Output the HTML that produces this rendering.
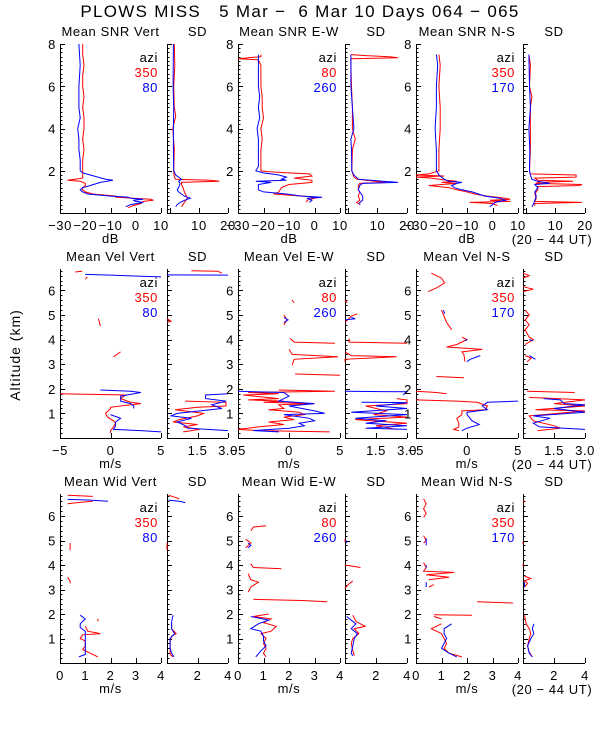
<!DOCTYPE html>
<html><head><meta charset="utf-8"><style>
body{margin:0;background:#fff}
svg{display:block}
text{font-family:"Liberation Sans",sans-serif;font-size:13px;fill:#000;letter-spacing:0.6px}
</style></head><body>
<svg id="chart" width="600" height="750" viewBox="0 0 600 750" xmlns="http://www.w3.org/2000/svg">
<text x="300" y="17" text-anchor="middle" style="font-size:17px;letter-spacing:1.3px" xml:space="preserve">PLOWS MISS   5 Mar −  6 Mar 10 Days 064 − 065</text>
<text transform="translate(20,355) rotate(-90)" text-anchor="middle" style="font-size:14px;letter-spacing:1px">Altitude (km)</text>
<g id="plots"></g>
</svg>
<script>
// ---------- data: [altitude km, value], null = gap ----------
const snrVertRed=[[8,-21],[7.5,-21],[7,-20.5],[6.5,-21],[6,-21],[5.5,-20.5],[5,-21],[4.5,-20.5],[4,-20.5],[3.5,-21],[3,-20.5],[2.5,-21],[2,-21],[1.8,-21],[1.65,-21],[1.6,-24],[1.55,-27],[1.5,-22],[1.4,-20],[1.3,-20],[1.2,-21],[1.1,-21],[1,-20],[0.9,-17],[0.8,-8],[0.75,-8],[0.7,-1],[0.65,6],[0.6,7],[0.55,3],[0.45,2],[0.35,-1],[0.25,-3]];
const snrVertBlue=[[8,-22.5],[7,-22],[6,-22.5],[5,-22.5],[4.5,-22],[4,-23],[3.5,-22.5],[3,-22.5],[2.5,-22],[2,-22],[1.9,-21],[1.8,-18],[1.6,-12],[1.55,-9],[1.45,-14],[1.3,-18],[1.2,-21],[1.1,-22],[1,-21],[0.9,-19],[0.8,-10],[0.75,-3],[0.7,-2],[0.65,3],[0.6,-1],[0.55,0],[0.5,3],[0.4,-2],[0.3,-4]];
const snrVertSdRed=[[8,1.5],[7,1.7],[6,1.3],[5,1.5],[4.6,2],[4,1],[3,1.5],[2,1.3],[1.7,1.5],[1.6,2],[1.55,14],[1.5,17],[1.45,4],[1.35,4],[1.2,4.5],[1,5],[0.85,5.5],[0.7,6],[0.6,5.5],[0.5,5],[0.3,4]];
const snrVertSdBlue=[[8,1.2],[6,1.1],[5,1.3],[4,1.2],[3,1.2],[2,1.3],[1.8,2],[1.7,3],[1.6,4],[1.5,3],[1.4,3.5],[1.2,3],[1.1,2.5],[1,3],[0.8,5],[0.7,7],[0.6,5],[0.5,3.5],[0.4,2.5],[0.3,2]];
const snrEwRed=[[7.5,-21],[7.4,-21],[7.35,-26],[7.3,-30],[7.25,-22],[7,-21],[6,-21],[5.5,-20.5],[5,-20.5],[4.5,-20],[4,-21],[3.5,-20.5],[3,-21],[2.5,-21],[2,-21],[1.95,-18],[1.9,-10],[1.85,-2],[1.75,-1],[1.65,-8],[1.55,-1],[1.45,-1],[1.35,-10],[1.2,-13],[1,-14],[0.9,-16],[0.8,-5],[0.75,2],[0.7,0],[0.6,-3],[0.5,-3]];
const snrEwBlue=[[7.5,-22],[7,-22],[6,-22],[5.5,-21.5],[5,-22],[4.5,-21.5],[4,-22.5],[3.5,-22],[3,-22],[2.5,-22],[2.2,-22],[2,-23],[1.9,-20],[1.8,-14],[1.7,-11],[1.6,-13],[1.55,-11],[1.5,-23],[1.45,-17],[1.35,-22],[1.2,-22],[1.1,-22],[1,-20],[0.9,-11],[0.8,-5],[0.75,3],[0.7,-3],[0.6,-1],[0.5,-2]];
const snrEwSdRed=[[7.5,1],[7.45,6],[7.4,14],[7.35,17],[7.3,1],[7,1],[6,1.2],[5,1.5],[4,1.5],[3.5,2.5],[3,1.5],[2,1.3],[1.7,2],[1.6,3],[1.5,9],[1.45,13],[1.4,4],[1.3,3.5],[1.1,3.5],[1,4],[0.8,3.5],[0.6,4],[0.5,3],[0.4,4]];
const snrEwSdBlue=[[7.5,1],[6,1],[5,1.5],[4,2],[3.5,1],[3,1.2],[2,1.3],[1.8,2],[1.6,3.5],[1.5,12],[1.45,17],[1.4,5],[1.3,4],[1.1,3.5],[1,4],[0.8,5],[0.6,5],[0.5,4],[0.4,4]];
const snrNsRed=[[7.5,-21],[7,-20.5],[6,-21],[5,-20.5],[4,-20.5],[3,-21],[2.5,-21],[2,-21],[1.85,-25],[1.8,-30],[1.75,-19],[1.7,-30],[1.65,-24],[1.55,-18],[1.5,-14],[1.45,-20],[1.4,-14],[1.3,-25],[1.25,-21],[1.2,-17],[1.1,-14],[1,-10],[0.9,-7],[0.8,-2],[0.7,5],[0.65,7],[0.6,-1],[0.55,7],[0.5,-9],[0.45,0],[0.35,2]];
const snrNsBlue=[[7.5,-22],[7,-21.5],[6,-22],[5,-22],[4,-22.5],[3,-22],[2.5,-22],[2,-22],[1.8,-21],[1.6,-19],[1.5,-17],[1.45,-12],[1.4,-14],[1.3,-16],[1.2,-15],[1.1,-12],[1,-8],[0.8,-3],[0.7,3],[0.6,5],[0.5,1],[0.4,0],[0.3,-1]];
const snrNsSdRed=[[7.5,1],[7,1.5],[6,1.2],[5.5,2],[5,1.5],[4,1.5],[3,1.5],[2,1.2],[1.85,1.5],[1.8,17],[1.7,17],[1.65,3],[1.55,4],[1.5,16],[1.45,4],[1.4,3.5],[1.35,19],[1.3,18],[1.25,4],[1.1,4],[0.9,3],[0.7,3.5],[0.55,3],[0.5,19],[0.45,3],[0.35,3]];
const snrNsSdBlue=[[7.5,1],[6,1.2],[5,1.5],[4,1],[3,1.3],[2,1.2],[1.8,1.5],[1.6,2],[1.5,4],[1.4,8],[1.35,3],[1.2,4],[1,3],[0.8,3.5],[0.6,3],[0.4,2.5],[0.3,2]];

const velVertRed=[[6.75,-3.5],[6.78,-2.8],null,[6.45,-2.5],[6.55,-2.3],null,[4.85,-1.2],[4.55,-1],null,[3.5,1],[3.3,0.3],null,[1.8,-5],[1.78,-2.5],[1.75,1.5],[1.6,1],[1.45,2],[1.4,3],[1.35,2],[1.25,0],[1.2,0],[1,-0.5],[0.85,-0.3],[0.7,0.3],[0.6,0.5],[0.45,0.3],[0.3,0],[0.2,0]];
const velVertBlue=[[6.65,-2.5],[6.62,0],[6.55,5],null,[1.95,-1],[1.9,2],[1.85,3],[1.7,1],[1.5,1],[1.4,2],[1.3,2.3],[1.2,2.3],null,[0.95,0],[0.8,1],[0.65,0.5],[0.5,0.5],[0.35,0.3],[0.3,3],[0.25,5]];
const velVertSdRed=[[6.8,1.2],[6.78,2.5],[6.7,2.7],null,[4.85,0],[4.75,0.2],[4.7,0],null,[1.5,0.9],[1.45,2.9],[1.3,2.9],[1.25,1.5],[1.15,0.4],[1,1.8],[0.9,1.5],[0.75,0.6],[0.65,0.3],[0.55,1.5],[0.45,0.8],[0.35,1.6],[0.25,0.8]];
const velVertSdBlue=[[6.63,0],[6.62,3],null,[1.8,3],[1.75,1.9],[1.6,1.9],[1.5,2.9],[1.35,2.2],[1.2,2.7],[1,0.5],[0.9,0.2],[0.8,1.2],[0.65,0.5],[0.5,0.9],[0.4,1],[0.35,2],[0.3,3]];
const velEwRed=[[5.6,0.3],[5.5,0.5],null,[5,-0.5],[4.8,-0.2],[4.6,-0.5],null,[4.05,0.1],[3.9,0.5],[3.85,4.5],null,[3.6,0],[3.4,0.3],[3.3,4.8],[3.2,0.5],[2.95,0.3],null,[2.6,0.6],[2.55,5],null,[1.95,-1],[1.9,4.5],[1.85,-4],[1.8,-1],[1.75,-4.5],[1.6,-1],[1.55,-4],[1.5,-0.5],[1.45,-2.5],[1.4,2.5],[1.35,-1],[1.2,-0.5],[1.15,-2],[1.05,1],[0.95,1.5],[0.85,-0.5],[0.75,0.5],[0.65,-2],[0.55,-0.5],[0.45,-3],[0.35,-5],[0.3,-3],[0.25,4]];
const velEwBlue=[[4.9,-0.5],[4.8,-0.1],[4.7,-0.5],null,[1.9,-5],[1.85,-0.5],[1.7,0],[1.6,-0.5],[1.5,-1],[1.4,2.5],[1.3,0],[1.1,2.5],[1,3.5],[0.95,-0.5],[0.8,2],[0.7,2.5],[0.6,1],[0.5,1.5],[0.4,0],[0.3,-3.5],[0.25,-1]];
const velEwSdRed=[[5.6,0],[5.5,0.1],null,[5.05,0.6],[4.95,0.3],[4.7,0],null,[4.05,0.2],[3.9,0.2],[3.85,3],null,[3.5,0],[3.35,0.3],[3.3,2.5],[3.2,0],[3.1,0],null,[1.6,2.5],[1.55,3],[1.4,3],[1.3,1],[1.1,2],[0.95,1.4],[0.85,3],[0.75,0.5],[0.6,3],[0.5,1.5],[0.35,2.5]];
const velEwSdBlue=[[4.9,0.3],[4.85,0.5],[4.8,0],null,[1.9,0],[1.88,3],[1.75,2.8],null,[1.45,0.8],[1.44,3],[1.3,1.5],[1.2,3],[1.05,0.3],[0.95,3],[0.8,0.5],[0.7,2],[0.6,1],[0.5,3],[0.4,1],[0.35,3]];
const velNsRed=[[6.7,-3.5],[6.5,-2.5],[6.3,-2.2],[6.1,-3],[5.95,-3.8],null,[5.2,-2.5],[5,-2.3],[4.7,-2],[4.4,-1.5],null,[4.1,-0.5],[4,0],[3.8,-1],[3.7,-2],[3.6,1.5],[3.5,-0.5],[3.4,-0.3],[3.1,-0.2],null,[2.5,-3],[2.45,-0.3],null,[1.9,-5],[1.85,-3],[1.8,-2],null,[1.55,-5],[1.5,-1],[1.45,1],[1.3,2],[1.15,1.8],[1.1,-0.5],[0.95,-0.5],[0.8,-1],[0.6,-0.8],[0.45,-0.8],[0.35,-1.3],[0.3,-0.8]];
const velNsBlue=[[5.2,-2.3],[5.05,-2.2],null,[4,0],[3.95,-0.2],null,[3.35,1.3],[3.2,0.3],[3.1,0],null,[1.5,5],[1.45,2],[1.3,1.5],[1.15,2],[1.05,0],[0.95,0],[0.7,0.5],[0.55,1.2],[0.4,0],[0.3,-0.5]];
const velNsSdRed=[[6.7,0],[6.6,0.3],[6.5,0],null,[6.15,0],[6.05,0.5],[5.95,0],null,[5.2,0.1],[5,0.3],[4.8,0.1],[4.6,0.3],[4.4,0.1],[4.1,0.3],[4,0.5],[3.8,0.1],null,[3.35,0.1],[3.25,0.4],[3.1,0.2],null,[1.9,0.2],[1.85,2.5],null,[1.65,0.3],[1.55,3],[1.4,1.5],[1.3,3],[1.15,0.6],[1.1,3],[0.9,0.3],[0.7,0.5],[0.5,1.5],[0.4,1.8],[0.3,0.7]];
const velNsSdBlue=[[4,0.3],[3.95,0.5],null,[3.35,0.3],[3.2,0.6],null,[1.6,1],[1.55,1.8],[1.4,2],[1.35,3],[1.2,1.5],[1.05,3],[0.9,0.5],[0.8,1.3],[0.6,0.5],[0.45,0.8],[0.35,3]];

const widVertRed=[[6.85,0.3],[6.8,1.3],null,[6.6,1.3],[6.55,0.7],[6.5,0.3],null,[4.9,0.4],[4.6,0.4],null,[3.5,0.3],[3.35,0.4],[3.25,0.4],null,[1.8,1.5],[1.7,1.5],null,[1.5,1],[1.3,1.1],[1.2,1.6],[1.15,0.9],[1,0.8],[0.9,1],[0.7,1],[0.55,0.9],[0.4,1.2],[0.25,1.5]];
const widVertBlue=[[6.68,0.3],[6.65,1.2],[6.6,1.9],null,[1.95,0.8],[1.8,1],[1.6,0.8],[1.45,0.8],[1.3,1],[1.1,1],[0.9,1],[0.7,1],[0.5,1],[0.35,1],[0.25,0.75]];
const widVertSdRed=[[6.85,0.1],[6.75,0.6],[6.7,0.8],null,[4.9,0],[4.6,0],null,[1.6,0.3],[1.4,0.3],[1.2,0.6],[1.1,0.3],[0.9,0.2],[0.6,0.2],[0.35,0.2],[0.25,0.4]];
const widVertSdBlue=[[6.65,0.1],[6.6,0.8],[6.55,1.2],null,[1.95,0.4],[1.7,0.3],[1.4,0.3],[1.2,0.5],[1,0.2],[0.6,0.2],[0.4,0.3],[0.25,0.45]];
const widEwRed=[[5.6,1.1],[5.55,0.6],[5.4,0.5],null,[5.05,0.3],[4.9,0.5],[4.7,0.3],null,[4.05,0.5],[3.9,0.6],[3.85,1.7],null,[3.65,0.4],[3.4,0.5],[3.3,0.8],[3.1,0.5],[2.9,0.4],null,[2.6,0.6],[2.55,2.5],[2.5,3.5],null,[2,1.2],[1.9,0.6],[1.8,1.3],[1.65,1],[1.5,1.5],[1.3,1.3],[1.2,0.9],[1,1.1],[0.8,1],[0.6,1.1],[0.4,1],[0.25,1.1]];
const widEwBlue=[[4.9,0.4],[4.8,0.5],[4.7,0.4],null,[1.9,0.5],[1.75,1.2],[1.6,0.8],[1.4,0.5],[1.3,0.9],[1.1,1],[0.9,1],[0.7,1.1],[0.5,0.9],[0.25,0.7]];
const widEwSdRed=[[5.05,0],[4.95,0],null,[4,0],[3.9,1],null,[3.35,0.5],[3.2,0.2],[3.05,0],null,[1.95,0.5],[1.7,0.7],[1.5,1.3],[1.4,0.6],[1.2,0.9],[1,0.5],[0.8,0.4],[0.5,0.5],[0.3,0.6]];
const widEwSdBlue=[[5,0.1],[4.9,0.1],null,[1.9,0.1],[1.6,0.7],[1.4,0.4],[1.2,0.8],[1,0.6],[0.7,0.5],[0.4,0.4],[0.3,0.5]];
const widNsRed=[[6.7,0.3],[6.5,0.4],[6.3,0.3],[6.1,0.4],[5.95,0.3],null,[5.2,0.3],[5,0.4],[4.9,0.3],null,[4.1,0.3],[3.9,0.4],[3.75,0.3],[3.7,1.5],[3.6,0.4],[3.5,1.3],[3.4,0.5],null,[3.2,0.7],[3.1,0.5],null,[2.5,2.4],[2.45,3.8],null,[1.97,0.7],[1.95,2.2],null,[1.9,0.7],[1.8,1],null,[1.6,1],[1.4,0.6],[1.2,1],[1,1.1],[0.8,1.2],[0.6,1.1],[0.4,1.3],[0.25,1.8]];
const widNsBlue=[[5.1,0.4],[4.8,0.4],null,[4,0.4],[3.9,0.4],null,[3.3,0.4],[3.1,0.4],null,[1.6,1.4],[1.4,1.1],[1.2,1.1],[1,1.2],[0.8,1.1],[0.6,1],[0.4,1.3],[0.25,1.6]];
const widNsSdRed=[[6.65,0.05],[6.55,0.05],null,[4.95,0],[4.85,0],null,[4.05,0],[3.95,0],null,[3.55,0.1],[3.45,0.5],[3.35,0.1],[3.25,0.3],[3.1,0.1],null,[1.95,0.1],[1.6,0.2],[1.4,0.4],[1.2,0.5],[1,0.4],[0.7,0.3],[0.45,0.4],[0.25,0.6]];
const widNsSdBlue=[[3.3,0.1],[3.1,0.1],null,[1.6,0.7],[1.4,0.6],[1.2,0.7],[1,0.5],[0.7,0.3],[0.4,0.4],[0.25,0.6]];

const snrMeanTicks=[-30,-20,-10,0,10];
const snrSdTicks=[10,20];
const velMeanTicks=[-5,0,5];
const velSdTicks=[1.5,3.0];
const widMeanTicks=[0,1,2,3,4];
const widSdTicks=[2,4];
const snrAltTicks=[2,4,6,8];
const velAltTicks=[1,2,3,4,5,6];
const widAltTicks=[1,2,3,4,5,6];

// ---------- layout ----------
const NS='http://www.w3.org/2000/svg';
const root=document.getElementById('plots');
const colX=[[60,161],[167,228],[238,340],[345,407],[416,518],[523,585]];
const rows=[
 {top:44,bot:213,ymax:8,yticks:snrAltTicks,minor:0.2,title:'SNR',unit:'dB',
  mean:{dom:[-30,10],ticks:snrMeanTicks},sd:{dom:[-1,20],ticks:snrSdTicks},
  series:[[snrVertRed,snrVertBlue],[snrVertSdRed,snrVertSdBlue],[snrEwRed,snrEwBlue],[snrEwSdRed,snrEwSdBlue],[snrNsRed,snrNsBlue],[snrNsSdRed,snrNsSdBlue]]},
 {top:269,bot:438,ymax:6.87,yticks:velAltTicks,minor:0.2,title:'Vel',unit:'m/s',
  mean:{dom:[-5,5],ticks:velMeanTicks},sd:{dom:[0,3],ticks:velSdTicks},
  series:[[velVertRed,velVertBlue],[velVertSdRed,velVertSdBlue],[velEwRed,velEwBlue],[velEwSdRed,velEwSdBlue],[velNsRed,velNsBlue],[velNsSdRed,velNsSdBlue]]},
 {top:494,bot:663,ymax:6.9,yticks:widAltTicks,minor:0.2,title:'Wid',unit:'m/s',
  mean:{dom:[0,4],ticks:widMeanTicks},sd:{dom:[0,4],ticks:widSdTicks},
  series:[[widVertRed,widVertBlue],[widVertSdRed,widVertSdBlue],[widEwRed,widEwBlue],[widEwSdRed,widEwSdBlue],[widNsRed,widNsBlue],[widNsSdRed,widNsSdBlue]]}
];
const dirs=['Vert','E-W','N-S'];
const azis=[['350','80'],['80','260'],['350','170']];

function mk(tag,attrs,parent){const e=document.createElementNS(NS,tag);for(const k in attrs)e.setAttribute(k,attrs[k]);(parent||root).appendChild(e);return e;}
function fmt(v,dec){return (v<0?'−':'')+Math.abs(v).toFixed(dec);}

rows.forEach((r,ri)=>{
  const yS=a=>r.bot-(a/r.ymax)*(r.bot-r.top);
  colX.forEach((cx,ci)=>{
    const isSd=ci%2===1;const ax=isSd?r.sd:r.mean;
    const xS=v=>cx[0]+(v-ax.dom[0])/(ax.dom[1]-ax.dom[0])*(cx[1]-cx[0]);
    const g=mk('g',{});
    
    
    const axl=mk('path',{d:`M${cx[0]+.5},${r.top}V${r.bot+.5}H${cx[1]}`,stroke:'#000',fill:'none','stroke-width':1},g);
    
    
    let dstr='';
    for(let a=r.minor;a<=r.ymax+1e-6;a+=r.minor){const y=Math.round(yS(a))+.5;const major=Math.abs(a-Math.round(a))<1e-6&&r.yticks.includes(Math.round(a));dstr+=`M${cx[0]},${y}h${major?5:2.5}`;}
    const yt=mk('path',{d:dstr,stroke:'#000','stroke-width':1},g);
    
    
    if(!isSd){r.yticks.forEach(t=>{const tx=mk('text',{x:cx[0]-4,y:yS(t)+5,'text-anchor':'end'},g);tx.textContent=t;
      
      });}
    let xd='';
    const step=(ax.ticks.length>1)?(ax.ticks[1]-ax.ticks[0]):1;
    const allT=[];for(let v=ax.ticks[0];v<=ax.dom[1]+1e-6;v+=step)allT.push(v);
    if(isSd){for(let v=ax.ticks[0]-step;v>=ax.dom[0]-1e-6;v-=step)allT.push(v);}
    allT.forEach(v=>{const x=Math.round(xS(v))+.5;xd+=`M${x},${r.bot}v-5`;});
    const xt=mk('path',{d:xd,stroke:'#000','stroke-width':1},g);
    
    
    ax.ticks.forEach(v=>{const tx=mk('text',{x:xS(v),y:r.bot+17,'text-anchor':'middle'},g);tx.textContent=fmt(v,isSd&&ri===1?1:0);
      
      });
    const tt=mk('text',{x:(cx[0]+cx[1])/2,y:r.top-8,'text-anchor':'middle'},g);
    tt.textContent=isSd?'SD':`Mean ${r.title} ${dirs[ci>>1]}`;
    
    
    if(!isSd){
      const ut=mk('text',{x:(cx[0]+cx[1])/2,y:r.bot+30,'text-anchor':'middle'},g);ut.textContent=r.unit;
      
      
      const lg=[['azi','#000'],[azis[ci>>1][0],'#f00'],[azis[ci>>1][1],'#00f']];
      lg.forEach((l,li)=>{const t=mk('text',{x:cx[1]-3,y:r.top+18+li*15,'text-anchor':'end',style:'fill:'+l[1]},g);t.textContent=l[0];
        
        });
    }
    if(ci===5){const u=mk('text',{x:(cx[0]+cx[1])/2-2,y:r.bot+31,'text-anchor':'middle'},g);u.textContent='(20 − 44 UT)';
      
      }
    r.series[ci].forEach((ser,si)=>{
      let d='';let pen=false;
      ser.forEach(p=>{if(!p){pen=false;return;}const x=xS(p[1]).toFixed(1),y=yS(p[0]).toFixed(1);d+=(pen?'L':'M')+x+','+y;pen=true;});
      const pl=mk('path',{d:d,fill:'none',stroke:si===0?'#f00':'#00f','stroke-width':1},g);
      
      
    });
  });
});
</script>
</body></html>
